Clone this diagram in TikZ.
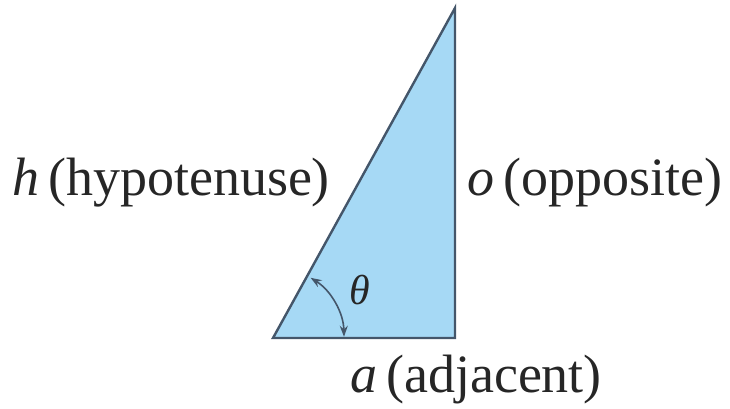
\documentclass[tikz,border=0pt]{standalone}
\usepackage{fontspec}
\setmainfont{Liberation Serif}
\usetikzlibrary{arrows.meta}
\definecolor{trifill}{HTML}{A6D9F5}
\definecolor{tristroke}{HTML}{44566A}
\tikzset{
  lbl/.style={font=\fontsize{54}{60}\selectfont, inner sep=0pt, text=black!85},
  tri/.style={fill=trifill, draw=tristroke, line width=2.4pt, line join=miter},
  anglearc/.style={draw=tristroke, line width=1.6pt, {Stealth[length=11pt,width=8pt]}-{Stealth[length=11pt,width=8pt]}}
}
\begin{document}
\begin{tikzpicture}[x=1pt,y=1pt]
\useasboundingbox (0,0) rectangle (730,408);
\coordinate (A) at (273,70);
\coordinate (B) at (455,70);
\coordinate (C) at (455,400);
\draw[tri] (A) -- (B) -- (C) -- cycle;
\draw[anglearc] ([shift={(58:71)}]A) arc[start angle=58, end angle=1, radius=71];
\node[lbl, font=\fontsize{42}{46}\selectfont\itshape] (th) at (360,118) {θ};
\node[lbl, anchor=base] (h) at (171,213) {\textit{h}\,(hypotenuse)};
\node[lbl, anchor=base] (o) at (595,213) {\textit{o}\,(opposite)};
\node[lbl, anchor=base] (a) at (476,16) {\textit{a}\,(adjacent)};
\end{tikzpicture}
\end{document}
